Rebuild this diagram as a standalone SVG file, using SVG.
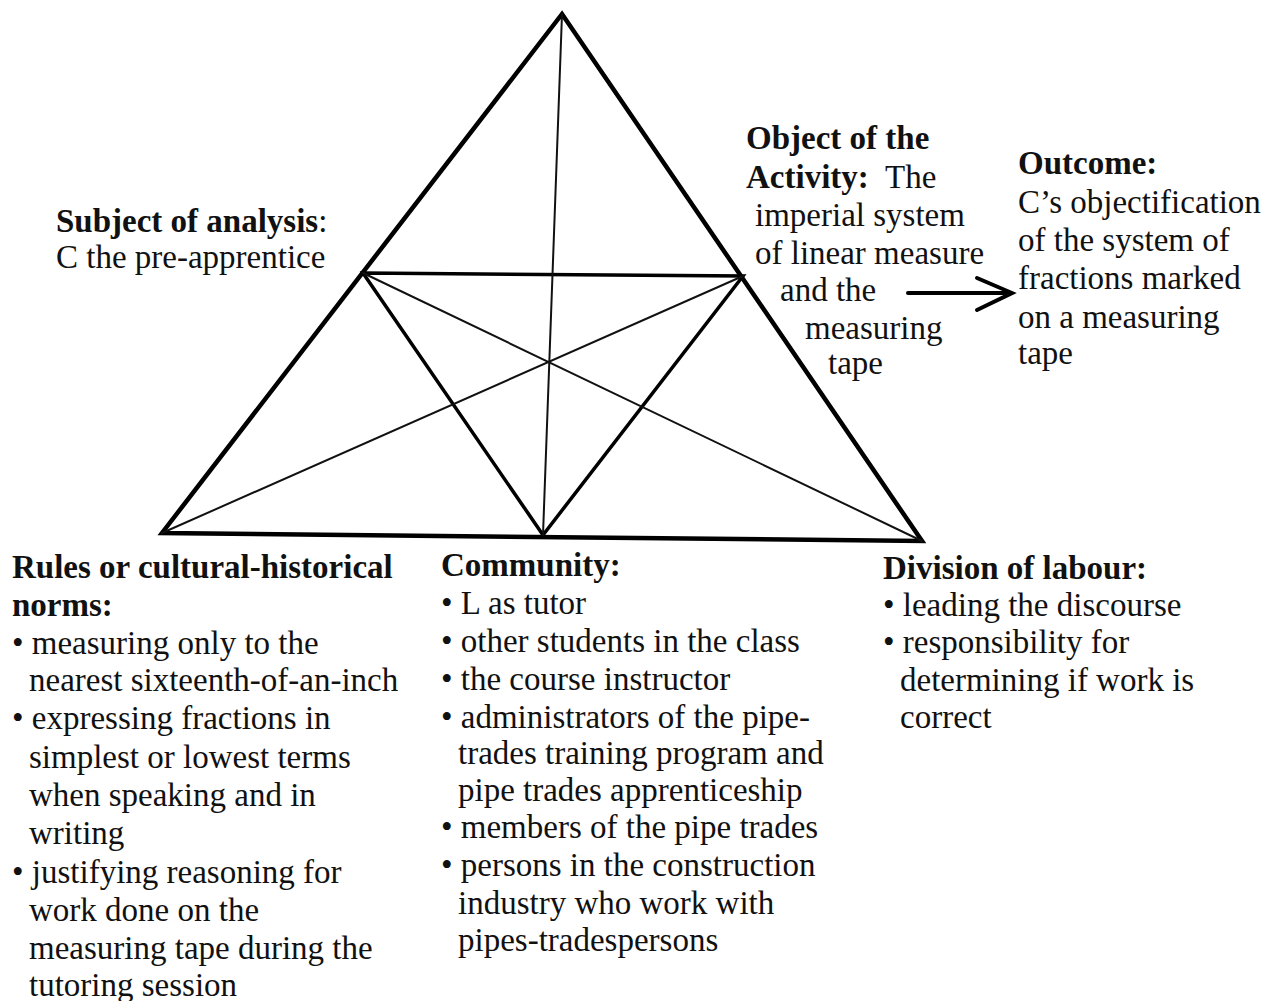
<svg xmlns="http://www.w3.org/2000/svg" width="1273" height="1001" viewBox="0 0 1273 1001">
<style>
text{font-family:"Liberation Serif","Times New Roman",serif;font-size:33px;fill:#111}
.b{font-weight:bold}
.thick{stroke:#000;stroke-width:4.5;fill:none;stroke-linejoin:miter;stroke-linecap:round}
.mid{stroke:#000;stroke-width:3.5;fill:none;stroke-linecap:round}
.arr{stroke:#000;stroke-width:4;fill:none;stroke-linecap:round}
.thin{stroke:#111;stroke-width:2;fill:none;stroke-linecap:round}
</style>
<rect width="1273" height="1001" fill="#fff"/>
<g id="connectors">
<polygon class="thick" points="562,14 162,533 922,541"/>
<polygon class="mid" points="363,273 743,276 543,535"/>
<line class="thin" x1="562" y1="14" x2="543" y2="535"/>
<line class="thin" x1="363" y1="273" x2="922" y2="541"/>
<line class="thin" x1="743" y1="276" x2="162" y2="533"/>
<line class="arr" x1="908" y1="293" x2="1010" y2="293"/>
<polyline class="arr" points="977,278 1012,293 977,310"/>
</g>
<g id="subject">
<text x="56" y="232"><tspan class="b">Subject of analysis</tspan>:</text>
<text x="56" y="268">C the pre-apprentice</text>
</g>
<g id="object">
<text x="746" y="149" class="b">Object of the</text>
<text x="746" y="188" class="b">Activity:</text>
<text x="885" y="188">The</text>
<text x="755" y="226">imperial system</text>
<text x="755" y="264">of linear measure</text>
<text x="780" y="301">and the</text>
<text x="805" y="339">measuring</text>
<text x="828" y="374">tape</text>
</g>
<g id="outcome">
<text x="1018" y="174" class="b">Outcome:</text>
<text x="1018" y="213">C’s objectification</text>
<text x="1018" y="251">of the system of</text>
<text x="1018" y="289">fractions marked</text>
<text x="1018" y="328">on a measuring</text>
<text x="1018" y="364">tape</text>
</g>
<g id="rules">
<text x="12" y="578" class="b">Rules or cultural-historical</text>
<text x="12" y="616" class="b">norms:</text>
<text x="12" y="654">• measuring only to the</text>
<text x="29" y="691">nearest sixteenth-of-an-inch</text>
<text x="12" y="729">• expressing fractions in</text>
<text x="29" y="768">simplest or lowest terms</text>
<text x="29" y="806">when speaking and in</text>
<text x="29" y="844">writing</text>
<text x="12" y="883">• justifying reasoning for</text>
<text x="29" y="921">work done on the</text>
<text x="29" y="959">measuring tape during the</text>
<text x="29" y="996">tutoring session</text>
</g>
<g id="community">
<text x="441" y="576" class="b">Community:</text>
<text x="441" y="614">• L as tutor</text>
<text x="441" y="652">• other students in the class</text>
<text x="441" y="690">• the course instructor</text>
<text x="441" y="728">• administrators of the pipe-</text>
<text x="458" y="764">trades training program and</text>
<text x="458" y="801">pipe trades apprenticeship</text>
<text x="441" y="838">• members of the pipe trades</text>
<text x="441" y="876">• persons in the construction</text>
<text x="458" y="914">industry who work with</text>
<text x="458" y="951">pipes-tradespersons</text>
</g>
<g id="division">
<text x="883" y="579" class="b">Division of labour:</text>
<text x="883" y="616">• leading the discourse</text>
<text x="883" y="653">• responsibility for</text>
<text x="900" y="691">determining if work is</text>
<text x="900" y="728">correct</text>
</g>
</svg>
